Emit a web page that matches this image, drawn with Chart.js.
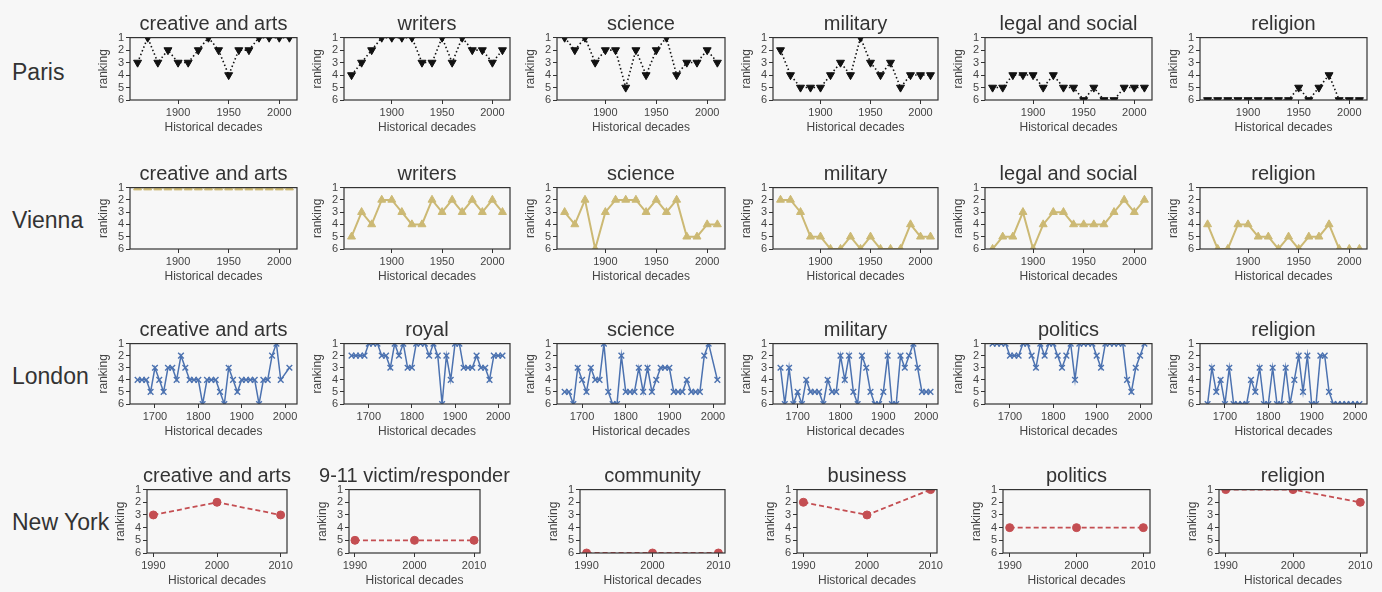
<!DOCTYPE html>
<html>
<head>
<meta charset="utf-8">
<script src="https://cdn.jsdelivr.net/npm/chart.js@4.4.0/dist/chart.umd.min.js"></script>
<style>
  body { margin:0; background:#f7f7f7; width:1382px; height:592px; position:relative; overflow:hidden; font-family:"Liberation Sans", Arial, sans-serif; }
  canvas { position:absolute; }
  .city { position:absolute; left:12px; font-size:23px; color:#333; transform:translateY(-50%); white-space:nowrap; }
  .ttl { position:absolute; font-size:20px; color:#333; transform:translate(-50%,-50%); white-space:nowrap; }
</style>
</head>
<body>
<script>
// decades on the x axis
const parisDecades = [1860,1870,1880,1890,1900,1910,1920,1930,1940,1950,1960,1970,1980,1990,2000,2010];
const londonDecades = [1660,1670,1680,1690,1700,1710,1720,1730,1740,1750,1760,1770,1780,1790,
  1800,1810,1820,1830,1840,1850,1860,1870,1880,1890,1900,1910,1920,1930,1940,1950,1960,1970,1980,1990,2000,2010];
const nyDecades = [1990,2000,2010];

// Paris
const parisNames = ['creative and arts','writers','science','military','legal and social','religion'];
const parisCreative = [3,1,3,2,3,3,2,1,2,4,2,2,1,1,1,1];
const parisWriters  = [4,3,2,1,1,1,1,3,3,1,3,1,2,2,3,2];
const parisScience  = [1,2,1,3,2,2,5,2,4,2,1,4,3,3,2,3];
const parisMilitary = [2,4,5,5,5,4,3,4,1,3,4,3,5,4,4,4];
const parisLegal    = [5,5,4,4,4,5,4,5,5,6,5,6,6,5,5,5];
const parisReligion = [6,6,6,6,6,6,6,6,6,5,6,5,4,6,6,6];

// Vienna
const viennaNames = ['creative and arts','writers','science','military','legal and social','religion'];
const viennaCreative = [1,1,1,1,1,1,1,1,1,1,1,1,1,1,1,1];
const viennaWriters  = [5,3,4,2,2,3,4,4,2,3,2,3,2,3,2,3];
const viennaScience  = [3,4,2,6,3,2,2,2,3,2,3,2,5,5,4,4];
const viennaMilitary = [2,2,3,5,5,6,6,5,6,5,6,6,6,4,5,5];
const viennaLegal    = [6,5,5,3,6,4,3,3,4,4,4,4,3,2,3,2];
const viennaReligion = [4,6,6,4,4,5,5,6,5,6,5,5,4,6,6,6];

// London
const londonNames = ['creative and arts','royal','science','military','politics','religion'];
const londonCreative = [4,4,4,5,3,4,5,3,3,4,2,3,4,4, 4,6,4,4,4,5,6,3,4,5, 4,4,4,4,6,4,4,2,1,4, null,3];
const londonRoyal    = [2,2,2,2,1,1,1,2,2,3,1,2,1,3, 3,1,1,1,2,1,2,6,2,4, 1,1,3,3,3,2,3,3,4,2, 2,2];
const londonScience  = [5,5,6,3,4,5,3,4,4,1,5,6,6,2, 5,5,5,3,5,3,5,4,3,3, 3,5,5,5,4,5,5,5,2,1, null,4];
const londonMilitary = [3,6,3,6,5,6,4,5,5,5,6,4,5,5, 2,4,2,5,6,2,3,5,6,6, 5,2,6,6,2,3,2,1,3,5, 5,5];
const londonPolitics = [1,1,1,1,2,2,2,1,1,2,3,1,2,1, 1,2,3,2,1,4,1,1,1,1, 2,3,1,1,1,1,1,4,5,3, 2,1];
const londonReligion = [6,3,5,4,6,3,6,6,6,6,4,5,3,6, 6,3,6,6,3,6,4,2,5,2, 6,6,2,2,5,6,6,6,6,6, 6,6];

// New York
const nyNames = ['creative and arts','9-11 victim/responder','community','business','politics','religion'];
const nyCreative  = [3,2,3];
const nyVictim    = [5,5,5];
const nyCommunity = [6,6,6];
const nyBusiness  = [2,3,1];
const nyPolitics  = [4,4,4];
const nyReligion  = [1,1,2];

const FONT = '"Liberation Sans", Arial, sans-serif';
const YW = 34, XH = 35, PT = 8, PR = 14;

const colsA = [[130,297],[344,510],[557,725],[773,938],[985,1152],[1200,1367]];
const rows = [
  {city:'Paris', cityY:72, top:37, bottom:100, cols:colsA, x:parisDecades, step:50, names:parisNames,
   series:[parisCreative,parisWriters,parisScience,parisMilitary,parisLegal,parisReligion],
   color:'#111111', point:'triangle', rot:180, r:4.6, dash:[1.5,2.5], lw:1.6},
  {city:'Vienna', cityY:220, top:187, bottom:249, cols:colsA, x:parisDecades, step:50, names:viennaNames,
   series:[viennaCreative,viennaWriters,viennaScience,viennaMilitary,viennaLegal,viennaReligion],
   color:'#ccb974', point:'triangle', rot:0, r:4.6, dash:[], lw:2},
  {city:'London', cityY:376, top:343, bottom:404, cols:colsA, x:londonDecades, step:100, names:londonNames,
   series:[londonCreative,londonRoyal,londonScience,londonMilitary,londonPolitics,londonReligion],
   color:'#4c72b0', point:'crossRot', rot:0, r:4, dash:[], lw:1.5},
  {city:'New York', cityY:522, top:489, bottom:553,
   cols:[[147,287],[349,480],[580,725],[797,937],[1003,1150],[1219,1367]], x:nyDecades, step:10, names:nyNames,
   series:[nyCreative,nyVictim,nyCommunity,nyBusiness,nyPolitics,nyReligion],
   color:'#c44e52', point:'circle', rot:0, r:4, dash:[5,3], lw:1.8}
];

const framePlugin = {
  id: 'frame',
  afterDraw(chart) {
    const {ctx, chartArea: a} = chart;
    ctx.save();
    ctx.strokeStyle = '#333';
    ctx.lineWidth = 1.2;
    ctx.strokeRect(a.left, a.top, a.right - a.left, a.bottom - a.top);
    ctx.restore();
  }
};

function addDiv(cls, text, left, top) {
  const d = document.createElement('div');
  d.className = cls;
  d.textContent = text;
  d.style.left = left + 'px';
  d.style.top = top + 'px';
  document.body.appendChild(d);
}

rows.forEach(row => {
  addDiv('city', row.city, 12, row.cityY);
  const span = row.x[row.x.length - 1] - row.x[0];
  const xmin = row.x[0] - span * 0.05, xmax = row.x[row.x.length - 1] + span * 0.05;

  row.cols.forEach((c, i) => {
    const w = YW + (c[1] - c[0]) + PR;
    const h = PT + (row.bottom - row.top) + XH;
    const cv = document.createElement('canvas');
    cv.width = w; cv.height = h;
    cv.style.width = w + 'px'; cv.style.height = h + 'px';
    cv.style.left = (c[0] - YW) + 'px';
    cv.style.top = (row.top - PT) + 'px';
    document.body.appendChild(cv);
    addDiv('ttl', row.names[i], (c[0] + c[1]) / 2, row.top - 14);

    const pts = row.x.map((d, k) => ({x: d, y: row.series[i][k]}));
    const tickFont = {family: FONT, size: 11};
    const titleFont = {family: FONT, size: 12};
    new Chart(cv, {
      type: 'line',
      data: {datasets: [{
        data: pts,
        borderColor: row.color,
        backgroundColor: row.color,
        borderWidth: row.lw,
        borderDash: row.dash,
        pointStyle: row.point,
        pointRotation: row.rot,
        pointRadius: row.r,
        pointBackgroundColor: row.color,
        pointBorderColor: row.color,
        pointBorderWidth: row.point === 'crossRot' ? 1.4 : 1,
        tension: 0,
        fill: false,
        spanGaps: true
      }]},
      options: {
        responsive: false,
        animation: false,
        devicePixelRatio: 1,
        layout: {padding: {top: PT, right: PR, left: 0, bottom: 0}},
        plugins: {legend: {display: false}, tooltip: {enabled: false}},
        scales: {
          x: {
            type: 'linear', min: xmin, max: xmax,
            afterFit(s) { s.height = XH; },
            border: {display: false},
            grid: {drawOnChartArea: false, tickLength: 4, color: '#333'},
            ticks: {stepSize: row.step, includeBounds: false, padding: 2, color: '#444', font: tickFont,
                    maxRotation: 0, autoSkip: false, callback: v => String(v)},
            title: {display: true, text: 'Historical decades', color: '#444', font: titleFont, padding: 0}
          },
          y: {
            type: 'linear', reverse: true, min: 1, max: 6,
            afterFit(s) { s.width = YW; },
            border: {display: false},
            grid: {drawOnChartArea: false, tickLength: 4, color: '#333'},
            ticks: {stepSize: 1, padding: 2, color: '#444', font: tickFont, autoSkip: false},
            title: {display: true, text: 'ranking', color: '#444', font: titleFont, padding: 0}
          }
        }
      },
      plugins: [framePlugin]
    });
  });
});
</script>
</body>
</html>
